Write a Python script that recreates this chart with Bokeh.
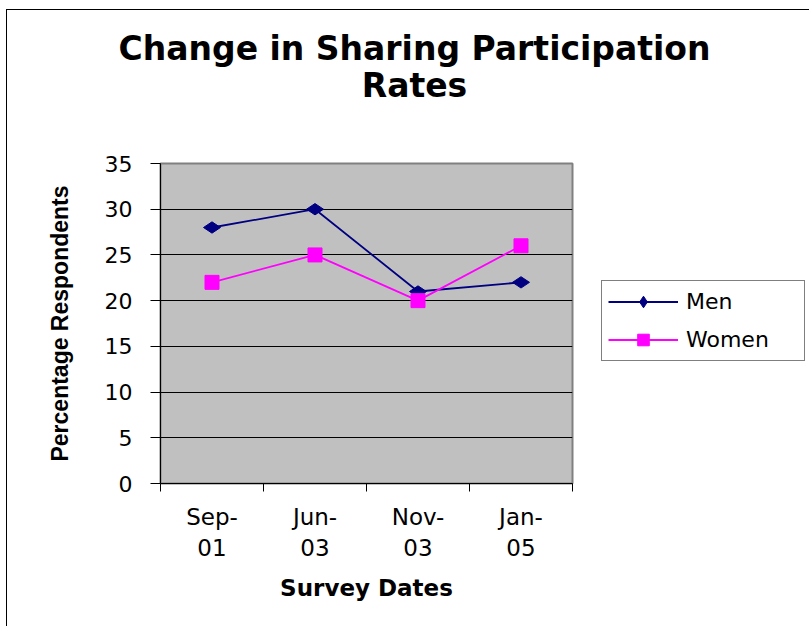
from bokeh.plotting import figure
from bokeh.models import Range1d, FixedTicker, Legend, LegendItem, Label
from bokeh.layouts import column, row
from bokeh.embed import file_html
from bokeh.resources import INLINE

# ---- data ----
dates = ["Sep-01", "Jun-03", "Nov-03", "Jan-05"]
date_labels = ["Sep-\n01", "Jun-\n03", "Nov-\n03", "Jan-\n05"]
men = [28, 30, 21, 22]
women = [22, 25, 20, 26]
y_ticks = [0, 5, 10, 15, 20, 25, 30, 35]
title_lines = ["Change in Sharing Participation", "Rates"]
series_names = ["Men", "Women"]
x_title = "Survey Dates"
y_title = "Percentage Respondents"

FONT = "DejaVu Sans"
NAVY = "#000080"
MAGENTA = "#FF00FF"

# category slots: each category occupies one unit, centred in its slot
n = len(dates)
xpos = [i + 0.5 for i in range(n)]


def blank(width, height):
    f = figure(width=width, height=height, x_range=Range1d(0, 1), y_range=Range1d(0, 1),
               output_backend="svg", toolbar_location=None,
               min_border_left=0, min_border_right=0, min_border_top=0, min_border_bottom=0,
               background_fill_color="white", border_fill_color="white")
    f.axis.visible = False
    f.grid.visible = False
    f.outline_line_color = None
    return f


def add_series(fig):
    l1 = fig.line(xpos, men, line_color=NAVY, line_width=1.8)
    m1 = fig.scatter(xpos, men, marker="diamond", size=17, angle=1.5708,
                     fill_color=NAVY, line_color=NAVY)
    l2 = fig.line(xpos, women, line_color=MAGENTA, line_width=1.8)
    m2 = fig.scatter(xpos, women, marker="square", size=14,
                     fill_color=MAGENTA, line_color=MAGENTA)
    return [l1, m1], [l2, m2]


# ---------- title strip ----------
tf = blank(802, 140)
for txt, yy in zip(title_lines, [102, 65]):
    tf.add_layout(Label(x=407, y=yy, x_units="screen", y_units="screen", text=txt,
                        text_align="center", text_baseline="middle",
                        text_font=FONT, text_font_style="bold", text_font_size="33px",
                        text_color="black"))

# ---------- main chart ----------
p = figure(width=590, height=476, x_range=Range1d(0, n), y_range=Range1d(0, 35),
           output_backend="svg", toolbar_location=None,
           min_border_left=153, min_border_right=25, min_border_top=13, min_border_bottom=143,
           background_fill_color="#C0C0C0", border_fill_color="white")
p.outline_line_color = "#808080"
p.outline_line_width = 2
p.xgrid.visible = False
p.ygrid.grid_line_color = "#000000"
p.ygrid.grid_line_width = 1
p.ygrid.ticker = FixedTicker(ticks=y_ticks)

ya = p.yaxis[0]
ya.ticker = FixedTicker(ticks=y_ticks)
ya.axis_line_color = "black"
ya.major_tick_out = 10
ya.major_tick_in = 0
ya.minor_tick_line_color = None
ya.major_label_standoff = 18
ya.major_label_text_font = FONT
ya.major_label_text_font_size = "22px"
ya.major_label_text_color = "black"
ya.axis_label = y_title
ya.axis_label_text_font = "Liberation Sans"
ya.axis_label_text_font_style = "bold"
ya.axis_label_text_font_size = "23px"
ya.axis_label_text_color = "black"
ya.axis_label_standoff = 29

xa = p.xaxis[0]
xa.ticker = FixedTicker(ticks=xpos, minor_ticks=list(range(n + 1)))
xa.major_label_overrides = {x: lab for x, lab in zip(xpos, date_labels)}
xa.axis_line_color = "black"
xa.major_tick_line_color = None
xa.major_tick_out = 8
xa.major_tick_in = 0
xa.minor_tick_out = 8
xa.minor_tick_in = 0
xa.minor_tick_line_color = "black"
xa.major_label_text_font = FONT
xa.major_label_text_font_size = "23px"
xa.major_label_text_color = "black"
xa.major_label_standoff = 12
xa.axis_label = x_title
xa.axis_label_text_font = FONT
xa.axis_label_text_font_style = "bold"
xa.axis_label_text_font_size = "23px"
xa.axis_label_text_color = "black"
xa.axis_label_standoff = 11

add_series(p)

# ---------- legend panel (its frame is aligned with the chart's frame) ----------
lf = blank(212, 476)
men_r, women_r = add_series(lf)   # same series; outside this panel's view, used for legend glyphs
legend = Legend(items=[LegendItem(label=series_names[0], renderers=men_r),
                       LegendItem(label=series_names[1], renderers=women_r)],
                location=(4, 122))
legend.border_line_color = "black"
legend.border_line_width = 1
legend.background_fill_color = "white"
legend.background_fill_alpha = 1
legend.padding = 6
legend.margin = 0
legend.spacing = 9
legend.glyph_width = 70
legend.glyph_height = 29
legend.label_standoff = 8
legend.label_width = 112
legend.label_text_font = FONT
legend.label_text_font_size = "22px"
legend.label_text_color = "black"
lf.add_layout(legend, "center")

layout = column(tf, row(p, lf), spacing=0,
                styles={"margin-left": "6px", "margin-top": "9px",
                        "border-left": "1px solid black", "border-top": "1px solid black"})

open("out.html", "w").write(file_html(layout, INLINE))
